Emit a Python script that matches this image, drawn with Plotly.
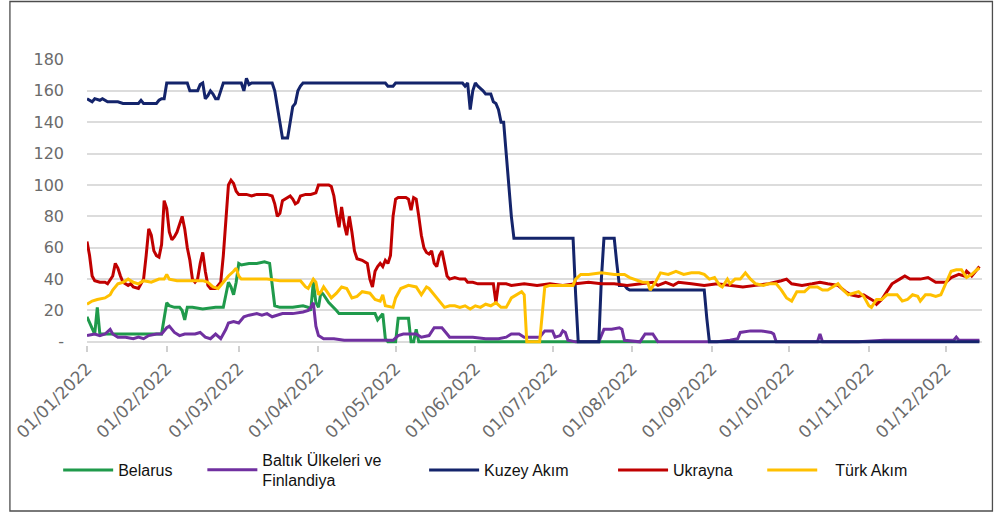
import pandas as pd
import plotly.graph_objects as go

START = pd.Timestamp("2022-01-01")

# Daily flows (mcm/day) sampled at the turning points of each series.
# Day offsets are counted from 1 January 2022.
belarus_day = [0, 1, 2, 3, 4, 5, 6, 10, 15, 20, 25, 29, 30, 31, 32, 34, 36, 37, 38, 39, 41, 45, 50, 53,
               54, 55, 56, 57, 58, 59, 60, 63, 66, 69, 71, 72, 73, 75, 80, 84, 86, 87, 88, 89, 90, 91,
               92, 94, 96, 97, 98, 105, 112, 113, 115, 116, 117, 120, 121, 125, 126, 127, 128, 129, 222]
belarus_val = [16, 12, 8, 5, 22, 5, 5, 5, 5, 5, 5, 5, 15, 25, 23, 22, 22, 20, 14, 22, 22, 21, 22, 22,
               30, 38, 35, 30, 38, 50, 49, 50, 50, 51, 50, 35, 23, 22, 22, 23, 22, 20, 38, 25, 22, 32,
               30, 25, 22, 20, 18, 18, 18, 14, 18, 2, 0, 0, 15, 15, 0, 0, 8, 0, 0]

baltik_day = [0, 3, 5, 7, 9, 10, 12, 15, 18, 20, 22, 24, 27, 29, 31, 32, 34, 36, 38, 42, 44, 46, 48, 50,
              52, 54, 55, 57, 59, 61, 63, 66, 68, 70, 72, 74, 76, 80, 84, 86, 87, 88, 89, 90, 92, 96,
              100, 105, 110, 115, 119, 121, 123, 126, 128, 130, 133, 135, 138, 140, 141, 145, 150,
              155, 160, 163, 165, 168, 170, 174, 176, 178, 181, 182, 184, 185, 186, 187, 190, 195,
              199, 201, 204, 207, 208, 209, 215, 217, 220, 222, 230, 245, 250, 253, 254, 258, 262,
              266, 267, 268, 275, 284, 285, 286, 300, 310, 320, 330, 337, 338, 339, 347]
baltik_val = [4, 5, 4, 5, 8, 5, 3, 3, 2, 3, 2, 4, 5, 5, 9, 10, 6, 4, 5, 5, 6, 3, 2, 5,
              2, 8, 12, 13, 12, 16, 17, 18, 17, 18, 16, 17, 18, 18, 19, 20, 22, 25, 10, 4, 2, 2,
              1, 1, 1, 1, 1, 4, 5, 5, 5, 3, 4, 9, 9, 5, 3, 3, 3,
              2, 2, 3, 5, 5, 3, 3, 3, 7, 7, 3, 4, 7, 6, 1, 0, 0,
              0, 8, 8, 9, 8, 1, 0, 5, 5, 0, 0, 0, 1, 2, 6, 7, 7,
              6, 5, 0, 0, 0, 5, 0, 0, 1, 1, 1, 1, 3, 1, 1]

kuzey_day = [0, 2, 3, 5, 6, 8, 12, 14, 20, 21, 22, 27, 28, 29, 30, 31, 33, 39, 40, 43, 44, 45, 46, 47,
             48, 49, 50, 51, 52, 53, 54, 60, 61, 62, 63, 64, 72, 73, 75, 76, 78, 79, 80, 81, 82, 83,
             84, 100, 116, 117, 119, 120, 146, 147, 148, 149, 150, 151, 152, 154, 155, 157, 158, 159,
             160, 161, 162, 163, 164, 165, 166, 180, 189, 190, 191, 199, 200, 201, 205, 206, 207,
             209, 210, 211, 240, 241, 242, 347]
kuzey_val = [155, 153, 155, 154, 155, 153, 153, 152, 152, 154, 152, 152, 154, 155, 155, 165, 165, 165, 160, 160, 164, 165, 155, 157,
             160, 158, 155, 155, 160, 165, 165, 165, 160, 168, 164, 165, 165, 160, 140, 130, 130, 140, 150, 152, 160, 163,
             165, 165, 165, 163, 163, 165, 165, 163, 165, 148, 160, 165, 163, 160, 158, 158, 153, 152,
             148, 140, 140, 120, 100, 80, 66, 66, 66, 30, 0, 0, 40, 66, 66, 50, 36,
             36, 34, 33, 33, 15, 0, 0]

ukrayna_day = [0, 1, 2, 3, 5, 7, 8, 9, 10, 11, 12, 13, 14, 16, 17, 18, 20, 21, 22, 23, 24, 25, 26, 27,
               28, 29, 30, 31, 32, 33, 34, 35, 36, 37, 38, 39, 40, 41, 42, 43, 44, 45, 46, 47, 48, 50,
               51, 52, 53, 54, 55, 56, 57, 58, 59, 62, 64, 66, 68, 70, 72, 73, 74, 75, 76, 77, 79, 80,
               81, 82, 83, 85, 87, 89, 90, 92, 94, 95, 96, 97, 98, 99, 100, 101, 102, 103, 104, 105,
               107, 109, 110, 111, 112, 113, 114, 115, 116, 117, 118, 119, 120, 121, 124, 125, 126,
               127, 128, 129, 130, 131, 132, 133, 134, 135, 136, 137, 138, 139, 140, 141, 143, 145,
               147, 148, 150, 152, 155, 158, 159, 160, 163, 165, 170, 175, 180, 185, 190, 195, 200,
               205, 210, 215, 220, 222, 225, 228, 230, 235, 240, 245, 250, 255, 260, 265, 270, 272,
               274, 278, 282, 285, 288, 292, 295, 297, 300, 302, 304, 306, 307, 309, 311, 313, 316,
               318, 320, 324, 327, 330, 334, 336, 339, 341, 342, 344, 346, 347]
ukrayna_val = [64, 55, 42, 39, 38, 38, 37, 40, 42, 50, 47, 42, 38, 36, 37, 35, 34, 37, 40, 55, 72, 68, 58, 55,
               54, 62, 90, 85, 70, 65, 67, 70, 75, 80, 72, 60, 52, 40, 38, 40, 50, 57, 45, 36, 34, 34,
               36, 38, 55, 80, 100, 103, 101, 96, 94, 94, 93, 94, 94, 94, 93, 88, 80, 82, 90, 91, 93, 91,
               88, 89, 93, 94, 94, 95, 100, 100, 100, 99, 93, 82, 73, 86, 75, 68, 80, 70, 58, 53,
               52, 50, 40, 35, 45, 48, 50, 48, 52, 50, 55, 80, 91, 92, 92, 91, 84,
               92, 91, 80, 68, 60, 57, 56, 58, 50, 48, 55, 58, 50, 42, 40, 41, 40,
               40, 38, 38, 37, 37, 37, 25, 37, 37, 36, 37, 36, 37, 36, 37, 38, 37,
               37, 36, 37, 38, 36, 38, 36, 38, 37, 36, 37, 36, 35, 36, 37, 39, 40,
               37, 36, 37, 38, 37, 36, 32, 30, 29, 30, 28, 26, 24, 27, 32, 37, 40,
               42, 40, 40, 41, 38, 38, 41, 43, 42, 45, 42, 46, 48]

turk_day = [0, 2, 4, 7, 9, 10, 12, 14, 16, 18, 20, 22, 25, 28, 30, 31, 32, 35, 40, 45, 47, 49, 51, 53,
            55, 57, 58, 59, 60, 65, 70, 75, 80, 83, 85, 86, 88, 89, 90, 91, 92, 94, 95, 97, 99, 101,
            103, 105, 107, 110, 112, 114, 115, 116, 119, 120, 122, 125, 128, 130, 132, 133, 135, 137,
            139, 141, 143, 145, 147, 149, 151, 153, 155, 157, 159, 161, 163, 165, 167, 169, 170, 171,
            176, 178, 180, 185, 189, 190, 192, 195, 200, 205, 209, 211, 213, 216, 218, 219, 221, 223,
            226, 229, 232, 235, 238, 240, 242, 244, 246, 247, 249, 250, 252, 254, 256, 258, 260, 263,
            265, 268, 270, 272, 274, 276, 279, 281, 284, 286, 288, 290, 292, 294, 296, 298, 300, 302,
            304, 305, 307, 309, 311, 313, 315, 317, 319, 321, 323, 324, 326, 328, 330, 332, 334, 336,
            338, 340, 342, 344, 346, 347]
turk_val = [24, 26, 27, 28, 30, 33, 37, 38, 40, 38, 37, 39, 38, 40, 40, 43, 40, 39, 39, 39, 38, 35, 34, 38,
            42, 45, 47, 42, 40, 40, 40, 39, 39, 39, 35, 34, 40, 38, 30, 32, 35, 30, 28, 31, 35, 34,
            28, 29, 32, 31, 27, 26, 30, 23, 22, 28, 34, 36, 35, 30, 35, 34, 30, 26,
            22, 23, 23, 22, 23, 21, 23, 22, 24, 23, 25, 22, 22, 28, 30, 32, 30, 0,
            0, 35, 36, 36, 36, 40, 43, 43, 44, 43, 43, 41, 40, 38, 38, 33, 38, 44,
            43, 45, 43, 44, 44, 43, 40, 41, 36, 35, 40, 37, 40, 40, 44, 40, 37, 36,
            37, 37, 33, 28, 26, 32, 32, 35, 35, 33, 33, 35, 37, 33, 30, 31, 32, 29,
            23, 22, 27, 27, 30, 30, 30, 26, 27, 30, 29, 26, 30, 30, 29, 30, 38, 45,
            46, 46, 41, 43, 46, 47]

y_tickvals = [0, 20, 40, 60, 80, 100, 120, 140, 160, 180]
y_ticktext = ["-", "20", "40", "60", "80", "100", "120", "140", "160", "180"]

series = [
    ("Belarus", belarus_day, belarus_val, "#1f9a4b"),
    ("Baltık Ülkeleri ve<br>Finlandiya", baltik_day, baltik_val, "#7030a0"),
    ("Kuzey Akım", kuzey_day, kuzey_val, "#14246b"),
    ("Ukrayna", ukrayna_day, ukrayna_val, "#c00000"),
    ("   Türk Akım", turk_day, turk_val, "#ffc000"),
]

W, H = 994, 515
ML, MR, MT, MB = 82, 12, 59, 170
PW, PH = W - ML - MR, H - MT - MB


def px_x(p):
    return (p - ML) / PW


def px_y(p):
    return (H - MB - p) / PH


legend_left_px = [53, 198, 421, 611, 761]
legend_ids = ["legend", "legend2", "legend3", "legend4", "legend5"]

fig = go.Figure()
for (name, days, vals, color), lid in zip(series, legend_ids):
    x = START + pd.to_timedelta(days, unit="D")
    fig.add_trace(go.Scatter(
        x=x, y=vals, mode="lines", name=name,
        line=dict(color=color, width=3),
        legend=lid,
    ))

legend_font = dict(family="Liberation Sans, Arial, sans-serif", size=16, color="#111111")
layout_legends = {}
for lid, lx in zip(legend_ids, legend_left_px):
    layout_legends[lid] = dict(
        x=px_x(lx), y=px_y(470), xanchor="left", yanchor="middle",
        orientation="h", font=legend_font, bgcolor="rgba(0,0,0,0)",
        itemwidth=50,
    )

fig.update_layout(
    width=W, height=H,
    margin=dict(l=ML, r=MR, t=MT, b=MB),
    paper_bgcolor="white", plot_bgcolor="white",
    showlegend=True,
    **layout_legends,
)

tick_font = dict(family="DejaVu Sans, sans-serif", size=16, color="#6b6b6b")
fig.update_xaxes(
    range=["2022-01-01", "2022-12-15"],
    tick0="2022-01-01", dtick="M1", tickformat="%d/%m/%Y",
    tickangle=-45, tickfont=dict(tick_font, size=17),
    ticks="outside", ticklen=6, tickcolor="#d0d0d0", tickwidth=1.5,
    showgrid=False, showline=False, zeroline=False,
)
fig.update_yaxes(
    range=[-2, 180.3],
    tickvals=y_tickvals, ticktext=y_ticktext,
    tickfont=tick_font, ticklabelstandoff=22,
    showgrid=True, gridcolor="#dcdcdc", gridwidth=1.6,
    zeroline=False, showline=False,
)

# outer frame around the whole graphic
fig.add_shape(
    type="rect", xref="paper", yref="paper",
    x0=px_x(4.5), x1=px_x(992.5), y0=px_y(511), y1=px_y(1.5),
    line=dict(color="#4d4d4d", width=1.3), fillcolor="rgba(0,0,0,0)",
    layer="above",
)

fig.write_html("out.html")
